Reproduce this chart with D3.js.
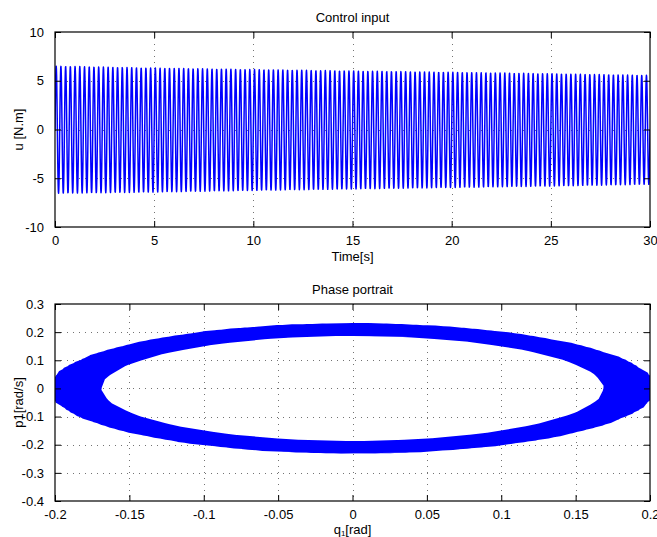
<!DOCTYPE html>
<html>
<head>
<meta charset="utf-8">
<script src="https://cdn.jsdelivr.net/npm/d3@7"></script>
<style>
  html, body { margin: 0; padding: 0; background: #fff; }
  svg { display: block; font-family: "Liberation Sans", Arial, sans-serif; }
</style>
</head>
<body>
<svg id="chart" width="657" height="537"></svg>
<script>
// ---------------- data ----------------
// Control input u(t): envelope read at these times
const envTimes = [0, 5, 10, 15, 20, 25, 30];
const envUpper = [6.5, 6.3, 6.15, 6.0, 5.87, 5.72, 5.55];
const envLower = [-6.55, -6.42, -6.25, -6.1, -5.95, -5.8, -5.62];
const oscFrequencyHz = 4.2;       // cycles per second counted on the picture
const sampleStep = 0.01;          // s

// Phase portrait: band limits (start -> end)
const qAmplitude = [0.204, 0.17];
const pAmplitude = [0.23, 0.19];

// axes ticks
const topXTicks = [0, 5, 10, 15, 20, 25, 30];
const topYTicks = [-10, -5, 0, 5, 10];
const botXTicks = [-0.2, -0.15, -0.1, -0.05, 0, 0.05, 0.1, 0.15, 0.2];
const botYTicks = [-0.4, -0.3, -0.2, -0.1, 0, 0.1, 0.2, 0.3];
const botXLabels = ["-0.2", "-0.15", "-0.1", "-0.05", "0", "0.05", "0.1", "0.15", "0.2"];
const botYLabels = ["-0.4", "-0.3", "-0.2", "-0.1", "0", "0.1", "0.2", "0.3"];

// ---------------- build series ----------------
const envUp = d3.scaleLinear().domain(envTimes).range(envUpper);
const envLo = d3.scaleLinear().domain(envTimes).range(envLower);
const nSamples = Math.round(30 / sampleStep);
const uSeries = [];
const phaseSeries = [];
const qAmp = d3.scaleLinear().domain([0, 30]).range(qAmplitude);
const pAmp = d3.scaleLinear().domain([0, 30]).range(pAmplitude);
for (let i = 0; i <= nSamples; i++) {
  const t = i * sampleStep;
  const ph = 2 * Math.PI * oscFrequencyHz * t;
  const up = envUp(t), lo = envLo(t);
  uSeries.push([t, (up + lo) / 2 + (up - lo) / 2 * Math.sin(ph)]);
  phaseSeries.push([-qAmp(t) * Math.cos(ph), pAmp(t) * Math.sin(ph)]);
}

// ---------------- drawing ----------------
const svg = d3.select("#chart");
const FS = 13;

function panel(box, xDomain, yDomain, xTicks, yTicks, xLabels, yLabels, title, xLabelFn, xLabelGap, yLabel, data) {
  const x = d3.scaleLinear().domain(xDomain).range([box.left, box.right]);
  const y = d3.scaleLinear().domain(yDomain).range([box.bottom, box.top]);
  const g = svg.append("g");
  const id = "clip" + Math.round(box.top);
  svg.append("clipPath").attr("id", id).append("rect")
    .attr("x", box.left).attr("y", box.top)
    .attr("width", box.right - box.left).attr("height", box.bottom - box.top);

  // grid (dotted)
  const grid = g.append("g").attr("stroke", "#000").attr("stroke-width", 1)
    .attr("stroke-dasharray", "1,5").attr("stroke-opacity", 0.55);
  xTicks.slice(1, -1).forEach(v => grid.append("line")
    .attr("x1", Math.round(x(v)) + 0.5).attr("x2", Math.round(x(v)) + 0.5)
    .attr("y1", box.top).attr("y2", box.bottom));
  yTicks.slice(1, -1).forEach(v => grid.append("line")
    .attr("y1", Math.round(y(v)) + 0.5).attr("y2", Math.round(y(v)) + 0.5)
    .attr("x1", box.left).attr("x2", box.right));

  // data line
  const line = d3.line().x(d => x(d[0])).y(d => y(d[1]));
  g.append("path").datum(data).attr("clip-path", `url(#${id})`)
    .attr("d", line).attr("fill", "none").attr("stroke", "#0000ff")
    .attr("stroke-width", 1.5).attr("stroke-linejoin", "round");

  // axes via d3 axis (ticks inward, both sides)
  const tl = 6;
  const fmtX = (d, i) => xLabels[i];
  const fmtY = (d, i) => yLabels[i];
  const axB = g.append("g").attr("transform", `translate(0,${box.bottom})`)
    .call(d3.axisBottom(x).tickValues(xTicks).tickFormat(fmtX).tickSizeInner(-tl).tickSizeOuter(0).tickPadding(9));
  const axT = g.append("g").attr("transform", `translate(0,${box.top})`)
    .call(d3.axisTop(x).tickValues(xTicks).tickFormat("").tickSizeInner(-tl).tickSizeOuter(0));
  const axL = g.append("g").attr("transform", `translate(${box.left},0)`)
    .call(d3.axisLeft(y).tickValues(yTicks).tickFormat(fmtY).tickSizeInner(-tl).tickSizeOuter(0).tickPadding(11));
  const axR = g.append("g").attr("transform", `translate(${box.right},0)`)
    .call(d3.axisRight(y).tickValues(yTicks).tickFormat("").tickSizeInner(-tl).tickSizeOuter(0));
  [axB, axT, axL, axR].forEach(a => {
    a.select(".domain").remove();
    a.selectAll("line").attr("stroke", "#000").attr("stroke-width", 1);
    a.selectAll("text").attr("fill", "#000").attr("font-size", FS)
      .attr("font-family", "Liberation Sans, Arial, sans-serif");
  });
  // box
  g.append("rect").attr("x", box.left).attr("y", box.top)
    .attr("width", box.right - box.left).attr("height", box.bottom - box.top)
    .attr("fill", "none").attr("stroke", "#000").attr("stroke-width", 1.2);

  // title
  g.append("text").attr("x", (box.left + box.right) / 2).attr("y", box.top - 10)
    .attr("text-anchor", "middle").attr("font-size", FS).text(title);
  // x label
  const xl = g.append("text").attr("x", (box.left + box.right) / 2).attr("y", box.bottom + xLabelGap)
    .attr("text-anchor", "middle").attr("font-size", FS);
  xLabelFn(xl);
  // y label
  g.append("text").attr("transform", `translate(${box.left - 32},${(box.top + box.bottom) / 2}) rotate(-90)`)
    .attr("text-anchor", "middle").attr("font-size", FS).text(yLabel);
}

panel({left: 55, right: 650, top: 32, bottom: 227}, [0, 30], [-10, 10],
  topXTicks, topYTicks, topXTicks.map(String), topYTicks.map(String),
  "Control input", t => t.text("Time[s]"), 34, "u [N.m]", uSeries);

panel({left: 55, right: 650, top: 304, bottom: 501}, [-0.2, 0.2], [-0.4, 0.3],
  botXTicks, botYTicks, botXLabels, botYLabels,
  "Phase portrait", t => {
    t.append("tspan").text("q");
    t.append("tspan").attr("font-size", 8).attr("dy", 2).text("1");
    t.append("tspan").attr("dy", -2).text("[rad]");
  }, 33, "p1[rad/s]", phaseSeries);
</script>
</body>
</html>
